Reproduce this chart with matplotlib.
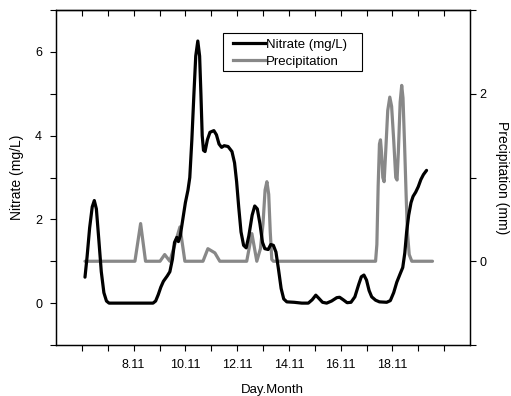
import matplotlib
matplotlib.use("Agg")
import matplotlib.pyplot as plt
from matplotlib.lines import Line2D
from matplotlib.patches import Rectangle

plt.rcParams['font.family'] = ['Liberation Sans', 'DejaVu Sans']

# ---- data (day of November) ----
nitrate_day = [6.12, 6.2, 6.3, 6.4, 6.48, 6.56, 6.65, 6.75, 6.85, 6.95, 7.05, 7.5, 8.0,
               8.75, 8.85, 8.95, 9.05, 9.15, 9.3, 9.4, 9.5, 9.58, 9.67, 9.73, 9.8, 9.9,
               10.0, 10.1, 10.17, 10.25, 10.33, 10.4, 10.48, 10.55, 10.6, 10.65, 10.7,
               10.76, 10.85, 10.95, 11.1, 11.2, 11.3, 11.4, 11.5, 11.65, 11.8, 11.9,
               11.98, 12.06, 12.15, 12.25, 12.35, 12.45, 12.58, 12.68, 12.78, 12.88,
               12.98, 13.07, 13.2, 13.3, 13.4, 13.5, 13.6, 13.7, 13.8, 13.92, 14.2,
               14.5, 14.75, 14.9, 15.04, 15.15, 15.3, 15.46, 15.65, 15.85, 15.96, 16.1,
               16.25, 16.4, 16.55, 16.7, 16.8, 16.9, 17.0, 17.1, 17.2, 17.35, 17.5,
               17.78, 17.92, 18.05, 18.17, 18.3, 18.4, 18.48, 18.55, 18.63, 18.72,
               18.8, 18.9, 19.0, 19.1, 19.2, 19.32]
nitrate_val = [0.62, 1.1, 1.8, 2.3, 2.45, 2.25, 1.55, 0.75, 0.25, 0.05, 0.0, 0.0, 0.0,
               0.0, 0.05, 0.2, 0.38, 0.52, 0.65, 0.75, 1.05, 1.45, 1.57, 1.47, 1.6, 2.0,
               2.4, 2.7, 3.0, 3.9, 5.0, 5.9, 6.26, 5.9, 5.0, 4.0, 3.65,
               3.62, 3.9, 4.08, 4.12, 4.02, 3.8, 3.72, 3.76, 3.74, 3.62, 3.35,
               2.9, 2.3, 1.7, 1.38, 1.32, 1.6, 2.1, 2.32, 2.25, 1.9,
               1.45, 1.3, 1.28, 1.4, 1.38, 1.22, 0.8, 0.35, 0.1, 0.03, 0.02,
               0.0, 0.0, 0.08, 0.19, 0.12, 0.02, 0.0, 0.05, 0.13, 0.14, 0.08,
               0.01, 0.02, 0.15, 0.45, 0.63, 0.67, 0.55, 0.3, 0.15, 0.07, 0.03,
               0.02, 0.06, 0.25, 0.5, 0.7, 0.85, 1.2, 1.7, 2.1, 2.4,
               2.55, 2.65, 2.78, 2.95, 3.07, 3.17]

precip_day = [6.12, 8.05, 8.27, 8.46, 9.02, 9.2, 9.4, 9.79, 9.98, 10.68, 10.87, 11.14,
              11.33, 12.37, 12.57, 12.76, 12.9, 13.0, 13.08, 13.15, 13.22, 13.28, 13.34,
              13.4, 17.35, 17.4, 17.45, 17.5, 17.54, 17.58, 17.63, 17.68, 17.74, 17.82,
              17.9, 17.97, 18.05, 18.13, 18.18, 18.23, 18.3, 18.36, 18.41, 18.47, 18.53,
              18.58, 18.65, 18.75, 19.55]
precip_val = [0, 0, 0.45, 0, 0, 0.08, 0, 0.41, 0, 0, 0.15, 0.1,
              0, 0, 0.33, 0, 0.15, 0.45, 0.85, 0.95, 0.8, 0.35, 0.02,
              0, 0, 0.2, 0.9, 1.4, 1.45, 1.3, 1.0, 0.95, 1.3, 1.8,
              1.96, 1.85, 1.45, 1.0, 0.97, 1.3, 1.9, 2.1, 1.95, 1.4, 0.8,
              0.35, 0.08, 0.0, 0]

x_ticks = list(range(6, 21))
x_tick_labels = ['', '', '8.11', '', '10.11', '', '12.11', '', '14.11', '',
                 '16.11', '', '18.11', '', '']
left_ticks = list(range(-1, 8))
left_tick_labels = ['', '0', '', '2', '', '4', '', '6', '']
right_ticks = [-1, 0, 1, 2, 3]
right_tick_labels = ['', '0', '', '2', '']

fig = plt.figure(figsize=(5.11, 3.96), dpi=100)
ax = fig.add_axes([0.1096, 0.1288, 0.8102, 0.8459])
ax2 = ax.twinx()

ax.plot(nitrate_day, nitrate_val, color='black', lw=2.3, solid_capstyle='round',
        solid_joinstyle='round', zorder=3)
ax2.plot(precip_day, precip_val, color='#888888', lw=2.3, solid_capstyle='round',
         solid_joinstyle='round')
ax.set_zorder(ax2.get_zorder() + 1)
ax.patch.set_visible(False)

ax.set_xlim(5, 21)
ax.set_ylim(-1, 7)
ax2.set_ylim(-1, 3)

ax.set_xticks(x_ticks)
ax.set_xticklabels(x_tick_labels, fontsize=9)
ax.set_yticks(left_ticks)
ax.set_yticklabels(left_tick_labels, fontsize=9)
ax2.set_yticks(right_ticks)
ax2.set_yticklabels(right_tick_labels, fontsize=9)

ax.tick_params(axis='x', which='both', direction='out', length=4, width=0.8, pad=6)
ax.tick_params(axis='y', which='both', direction='out', length=4, width=0.8, pad=6)
ax2.tick_params(axis='y', direction='out', length=4, width=0.8, pad=3)

top = ax.secondary_xaxis('top')
top.set_xticks(x_ticks)
top.set_xticklabels([''] * len(x_ticks))
top.tick_params(axis='x', direction='in', length=4, width=0.8)

for a in (ax, ax2, top):
    for s in a.spines.values():
        s.set_linewidth(0.9)

ax.set_xlabel('Day.Month', fontsize=9.5)
ax.xaxis.set_label_coords((272 - 56) / 414, -0.115)
ax.set_ylabel('Nitrate (mg/L)', fontsize=10, labelpad=8)
ax2.set_ylabel('Precipitation (mm)', fontsize=10, rotation=270, labelpad=16)

handles = [Line2D([], [], color='black', lw=2.3),
           Line2D([], [], color='#888888', lw=2.3)]
leg = ax.legend(handles, ['Nitrate (mg/L)', 'Precipitation'], loc='upper left',
                bbox_to_anchor=(0.4275, 0.915), fontsize=9.5, frameon=False,
                borderpad=0, labelspacing=0.36, handlelength=2.42,
                handletextpad=0.1, borderaxespad=0)
ax.add_patch(Rectangle((0.4034, 0.818), 0.739 - 0.4034, 0.931 - 0.818,
                       transform=ax.transAxes, fill=False, edgecolor='black',
                       linewidth=0.8, zorder=5))

fig.savefig('out.png', dpi=100)
